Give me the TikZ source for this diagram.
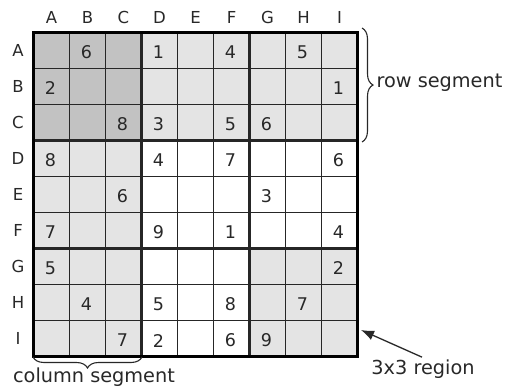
\documentclass[tikz,border=0pt]{standalone}
\usepackage{fontspec}
\setmainfont{DejaVu Sans}
\usetikzlibrary{arrows.meta,positioning,decorations.pathreplacing}
\definecolor{sudokudark}{RGB}{194,194,194}
\definecolor{sudokulight}{RGB}{228,228,228}
\definecolor{sudokutext}{RGB}{40,40,40}

\begin{document}
\begin{tikzpicture}[
    x=1pt, y=-1pt,
    cell/.style={font=\fontsize{17.5}{17.5}\selectfont, text=sudokutext, inner sep=0pt},
    header/.style={font=\fontsize{16.5}{16.5}\selectfont, text=sudokutext, inner sep=0pt},
    thinline/.style={line width=1.3pt, draw=black!85},
    blockline/.style={line width=2.2pt, draw=black!85},
    brace/.style={decorate, decoration={brace, amplitude=11pt}, line width=1.1pt, draw=sudokutext},
    label/.style={font=\fontsize{19.3}{19.3}\selectfont, text=sudokutext},
    arrow/.style={-{Latex[length=13pt,width=10pt]}, line width=1.3pt, draw=sudokutext}
]
\useasboundingbox (0,0) rectangle (506,386);

% shaded row segment, column segment and 3x3 region
\fill[sudokulight] (33.5,32.5) rectangle (357.5,140.5);
\fill[sudokulight] (33.5,140.5) rectangle (141.5,356.5);
\fill[sudokulight] (249.5,248.5) rectangle (357.5,356.5);
\fill[sudokudark] (33.5,32.5) rectangle (141.5,140.5);

% grid
\foreach \i in {1,2,4,5,7,8} {
  \draw[thinline] ({33.5+36*\i},32.5) -- ++(0,324);
  \draw[thinline] (33.5,{32.5+36*\i}) -- ++(324,0);
}
\foreach \i in {3,6} {
  \draw[blockline] ({33.5+36*\i},32.5) -- ++(0,324);
  \draw[blockline] (33.5,{32.5+36*\i}) -- ++(324,0);
}
\draw[line width=2.8pt] (33.5,32.5) rectangle (357.5,356.5);

% headers
\foreach \c [count=\i] in {A,B,C,D,E,F,G,H,I} {
  \node[header] (col\c) at ({33.5+36*\i-18},17) {\c};
  \node[header] (row\c) at (18,{32.5+36*\i-18}) {\c};
}

% givens: column/row/digit
\foreach \c/\r/\d in {2/1/6, 4/1/1, 6/1/4, 8/1/5,
                      1/2/2, 9/2/1,
                      3/3/8, 4/3/3, 6/3/5, 7/3/6,
                      1/4/8, 4/4/4, 6/4/7, 9/4/6,
                      3/5/6, 7/5/3,
                      1/6/7, 4/6/9, 6/6/1, 9/6/4,
                      1/7/5, 9/7/2,
                      2/8/4, 4/8/5, 6/8/8, 8/8/7,
                      3/9/7, 4/9/2, 6/9/6, 7/9/9} {
  \node[cell] (g\c\r) at ({33.5+36*\c-19},{32.5+36*\r-16}) {\d};
}

% row segment
\coordinate (rowtop) at (362,28);
\coordinate (rowbot) at (362,142);
\draw[brace] (rowtop) -- (rowbot);
\coordinate (rowtip) at (373,83);
\node[label, right=0pt of rowtip] (rowseg) {row segment};

% column segment
\coordinate (colright) at (142,357);
\coordinate (colleft) at (33,357);
\draw[brace] (colright) -- (colleft);
\node[label] (colseg) at (94,377) {column segment};

% 3x3 region
\node[label] (region) at (423,369) {3x3 region};
\coordinate (regioncorner) at (361,330);
\draw[arrow] (region.north) ++(-1,1) -- (regioncorner);
\end{tikzpicture}
\end{document}
